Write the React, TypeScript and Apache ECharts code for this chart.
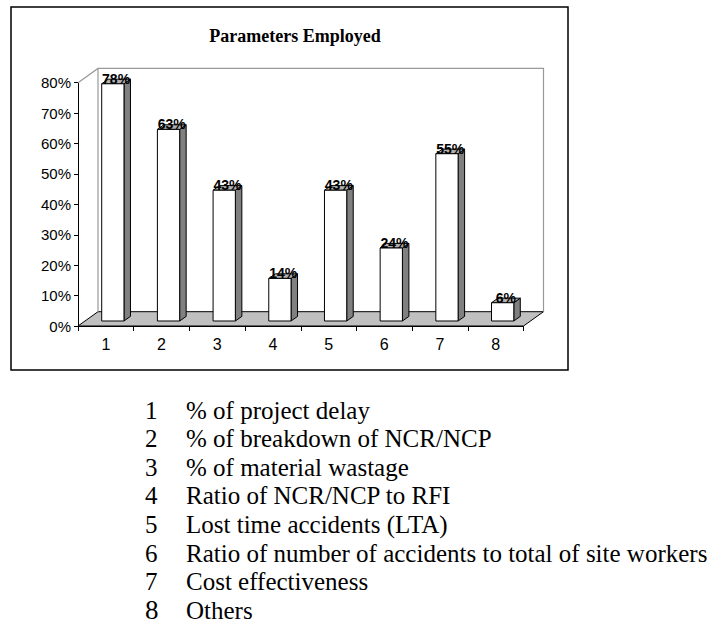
import React, { useEffect, useRef } from "react";
import * as echarts from "echarts";

const categories = ["1", "2", "3", "4", "5", "6", "7", "8"];
const values = [0.78, 0.63, 0.43, 0.14, 0.43, 0.24, 0.55, 0.06];
const valueLabels = ["78%", "63%", "43%", "14%", "43%", "24%", "55%", "6%"];
const yTicks = [0, 0.1, 0.2, 0.3, 0.4, 0.5, 0.6, 0.7, 0.8];
const legendNumbers = ["1", "2", "3", "4", "5", "6", "7", "8"];
const legendTexts = [
  "% of project delay",
  "% of breakdown of NCR/NCP",
  "% of material wastage",
  "Ratio of NCR/NCP to RFI",
  "Lost time accidents (LTA)",
  "Ratio of number of accidents to total of site workers",
  "Cost effectiveness",
  "Others",
];
const chartTitle = "Parameters Employed";

const DX = 20;
const DY = -14.3;
const BAR_DEPTH_FRAC = 0.35;
const SIDE_DX = 6.5;
const SIDE_DY = -4.6;
const SERIF = "'Liberation Serif', 'Times New Roman', serif";
const SANS = "'Liberation Sans', Arial, sans-serif";

export default function App() {
  const ref = useRef<HTMLDivElement>(null);
  useEffect(() => {
    if (!ref.current) return;
    const chart = echarts.init(ref.current, undefined, { renderer: "svg" });

    const legendGraphics: any[] = [];
    legendTexts.forEach((t, i) => {
      const y = 410 + i * 28.6;
      legendGraphics.push({
        type: "text",
        x: 145,
        y: y,
        style: {
          text: legendNumbers[i],
          font: (i === 7 ? "27px " : "25px ") + SERIF,
          fill: "#000",
          verticalAlign: "middle",
        },
      });
      legendGraphics.push({
        type: "text",
        x: 186,
        y: y,
        style: {
          text: t,
          font: "25px " + SERIF,
          fill: "#000",
          verticalAlign: "middle",
        },
      });
    });

    const option: any = {
      animation: false,
      backgroundColor: "#fff",
      title: {
        text: chartTitle,
        left: 290,
        textAlign: "center",
        top: 22,
        textStyle: {
          fontFamily: SERIF,
          fontWeight: "bold",
          fontSize: 18,
          color: "#000",
        },
      },
      grid: { left: 78, top: 82.7, width: 445.5, height: 243.3, containLabel: false },
      xAxis: {
        type: "category",
        data: categories,
        axisLine: { show: true, lineStyle: { color: "#000", width: 1 } },
        axisTick: { show: true, length: 5, lineStyle: { color: "#000" } },
        axisLabel: {
          color: "#000",
          fontFamily: SANS,
          fontSize: 16,
          margin: 10,
        },
        splitLine: { show: false },
      },
      yAxis: {
        type: "value",
        min: 0,
        max: 0.8,
        interval: 0.1,
        axisLine: { show: true, lineStyle: { color: "#000", width: 1 } },
        axisTick: { show: true, length: 4, lineStyle: { color: "#000" } },
        axisLabel: {
          color: "#000",
          fontFamily: SANS,
          fontSize: 15,
          margin: 7,
          formatter: (v: number) => {
            const idx = yTicks.findIndex((t) => Math.abs(t - v) < 1e-6);
            return idx >= 0 ? Math.round(yTicks[idx] * 100) + "%" : "";
          },
        },
        splitLine: { show: false },
      },
      graphic: [
        {
          type: "rect",
          shape: { x: 11, y: 7, width: 557, height: 363 },
          style: { fill: "none", stroke: "#000", lineWidth: 1.5 },
          z: 0,
        },
        ...legendGraphics,
      ],
      series: [
        {
          type: "custom",
          z: 1,
          data: [[0, 0]],
          renderItem: (params: any) => {
            const cs = params.coordSys;
            const x0 = cs.x;
            const x1 = cs.x + cs.width;
            const yb = cs.y + cs.height;
            const yt = cs.y;
            return {
              type: "group",
              children: [
                {
                  type: "polygon",
                  shape: {
                    points: [
                      [x0, yb],
                      [x1, yb],
                      [x1 + DX, yb + DY],
                      [x0 + DX, yb + DY],
                    ],
                  },
                  style: { fill: "#c0c0c0", stroke: "#000", lineWidth: 1 },
                },
                {
                  type: "polyline",
                  shape: {
                    points: [
                      [x0, yt],
                      [x0 + DX, yt + DY],
                      [x1 + DX, yt + DY],
                      [x1 + DX, yb + DY],
                    ],
                  },
                  style: { fill: "none", stroke: "#999", lineWidth: 1.2 },
                },
                {
                  type: "line",
                  shape: { x1: x0 + DX, y1: yt + DY, x2: x0 + DX, y2: yb + DY },
                  style: { stroke: "#999", lineWidth: 1.2 },
                },
              ],
            };
          },
        },
        {
          type: "custom",
          z: 2,
          data: values.map((v, i) => [i, v]),
          renderItem: (params: any, api: any) => {
            const idx = api.value(0);
            const val = api.value(1);
            const top = api.coord([idx, val]);
            const base = api.coord([idx, 0]);
            const band = api.size([1, 0])[0];
            const w = band * 0.4;
            const ox = DX * BAR_DEPTH_FRAC;
            const oy = DY * BAR_DEPTH_FRAC;
            const bx0 = top[0] - w / 2 + ox;
            const bx1 = bx0 + w;
            const by0 = top[1] + oy;
            const by1 = base[1] + oy;
            return {
              type: "group",
              children: [
                {
                  type: "polygon",
                  shape: {
                    points: [
                      [bx1, by0],
                      [bx1 + SIDE_DX, by0 + SIDE_DY],
                      [bx1 + SIDE_DX, by1 + SIDE_DY],
                      [bx1, by1],
                    ],
                  },
                  style: { fill: "#808080", stroke: "#000", lineWidth: 1 },
                },
                {
                  type: "polygon",
                  shape: {
                    points: [
                      [bx0, by0],
                      [bx0 + SIDE_DX, by0 + SIDE_DY],
                      [bx1 + SIDE_DX, by0 + SIDE_DY],
                      [bx1, by0],
                    ],
                  },
                  style: { fill: "#b0b0b0", stroke: "#000", lineWidth: 1 },
                },
                {
                  type: "rect",
                  shape: { x: bx0, y: by0, width: w, height: by1 - by0 },
                  style: { fill: "#fff", stroke: "#000", lineWidth: 1 },
                },
                {
                  type: "text",
                  x: (bx0 + bx1 + SIDE_DX) / 2,
                  y: by0 + 2,
                  style: {
                    text: valueLabels[params.dataIndex],
                    fill: "#000",
                    font: "bold 14px " + SANS,
                    align: "center",
                    verticalAlign: "bottom",
                  },
                },
              ],
            };
          },
        },
      ],
    };
    chart.setOption(option);
    return () => chart.dispose();
  }, []);
  return (
    <div
      ref={ref}
      style={{ position: "absolute", left: 0, top: 0, width: 711, height: 626 }}
    />
  );
}
